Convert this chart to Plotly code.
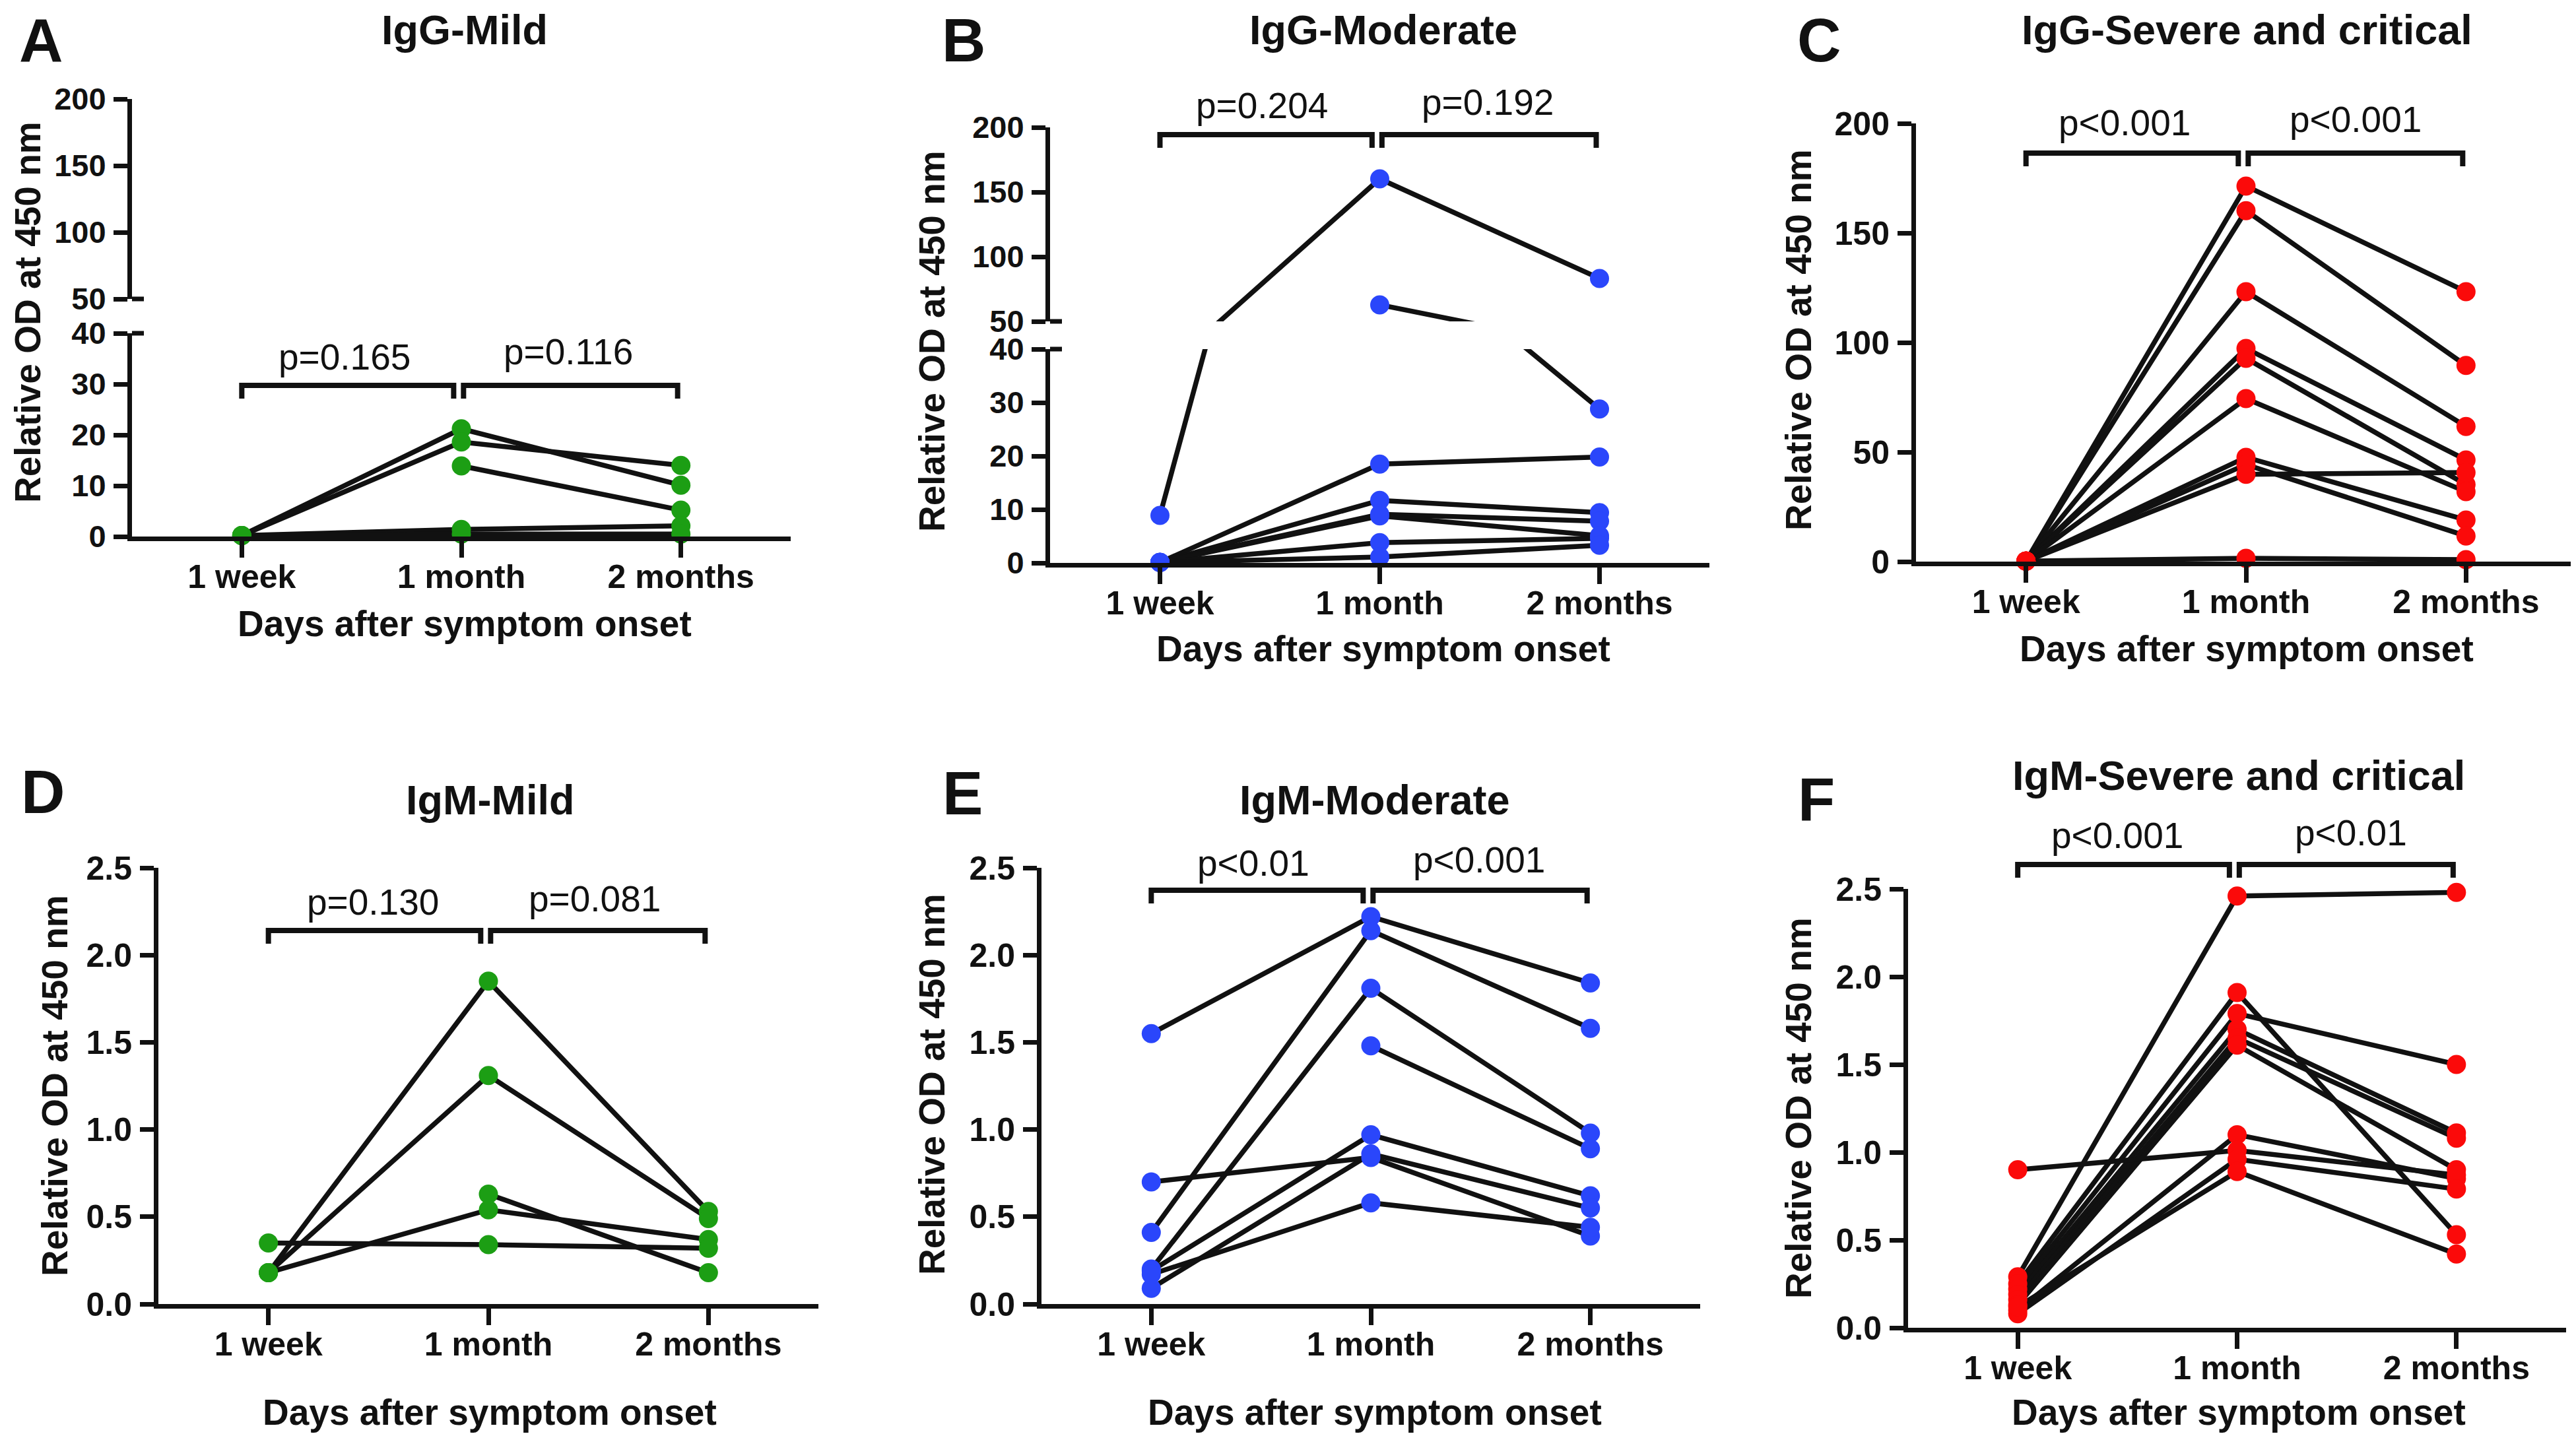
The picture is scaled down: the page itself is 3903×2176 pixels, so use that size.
import plotly.graph_objects as go

# categories on the x axis
timepoints = ["1 week", "1 month", "2 months"]

# A - IgG mild (one value per patient, None = not measured)
igg_mild_week = [0.2, 0.2, None, 0.2, 0.2]
igg_mild_month = [21.2, 18.6, 13.9, 1.4, 0.5]
igg_mild_2months = [10.1, 14.0, 5.2, 2.1, 0.5]

# B - IgG moderate
igg_mod_week = [8.9, None, 0.1, 0.1, 0.1, 0.1, 0.1, 0.1]
igg_mod_month = [160.2, 62.8, 18.5, 11.7, 9.1, 8.8, 3.8, 1.1]
igg_mod_2months = [83.2, 28.8, 19.8, 9.4, 7.8, 5.1, 4.6, 3.3]

# C - IgG severe and critical
igg_sev_week = [0.2, 0.2, 0.2, 0.2, 0.2, 0.2, 0.2, 0.2, 0.2, 0.2]
igg_sev_month = [171.4, 160.2, 123.2, 97.3, 92.8, 74.4, 47.6, 44.3, 39.8, 1.5]
igg_sev_2months = [123.2, 89.5, 61.7, 46.4, 35.2, 31.9, 19.0, 11.7, 40.7, 0.9]

# D - IgM mild
igm_mild_week = [0.18, 0.18, None, 0.18, 0.35]
igm_mild_month = [1.85, 1.31, 0.63, 0.54, 0.34]
igm_mild_2months = [0.53, 0.49, 0.18, 0.37, 0.32]

# E - IgM moderate
igm_mod_week = [1.55, 0.41, 0.20, None, 0.19, 0.09, 0.70, 0.17]
igm_mod_month = [2.22, 2.14, 1.81, 1.48, 0.97, 0.86, 0.84, 0.58]
igm_mod_2months = [1.84, 1.58, 0.98, 0.89, 0.62, 0.55, 0.39, 0.44]

# F - IgM severe and critical
igm_sev_week = [0.29, 0.25, 0.22, 0.19, 0.16, 0.13, 0.10, 0.90, 0.08, 0.12]
igm_sev_month = [2.46, 1.91, 1.79, 1.70, 1.65, 1.61, 1.10, 1.01, 0.96, 0.89]
igm_sev_2months = [2.48, 0.53, 1.50, 1.11, 1.08, 0.90, 0.85, 0.87, 0.79, 0.42]

# p values written over the brackets
p_values = {
    "A": ("p=0.165", "p=0.116"),
    "B": ("p=0.204", "p=0.192"),
    "C": ("p<0.001", "p<0.001"),
    "D": ("p=0.130", "p=0.081"),
    "E": ("p<0.01", "p<0.001"),
    "F": ("p<0.001", "p<0.01"),
}

W, H = 3903, 2176
PAGE_PAD = 8  # body margin of the html page
FONT = "Liberation Sans, Arial, Helvetica, sans-serif"
INK = "#111111"
GREEN, BLUE, RED = "#1c9e14", "#2a46fb", "#fb0a0a"


def px_x(p):
    return (p - PAGE_PAD) / W


def px_y(p):
    return 1 - (p - PAGE_PAD) / H


# layout of each panel, in page pixels
# segs: (low value, high value, pixel of low, pixel of high, tick values)
panels = [
    dict(letter="A", title="IgG-Mild", color=GREEN,
         data=(igg_mild_week, igg_mild_month, igg_mild_2months),
         x=(200, 1198),
         segs=[(0, 40, 813, 505, [0, 10, 20, 30, 40]),
               (50, 200, 453, 150, [50, 100, 150, 200])],
         fmt="", letter_xy=(62, 61), title_xy=(704, 45), ytitle_xy=(42, 473),
         xtitle_xy=(704, 945), p_xy=((522, 541), (861, 533)), bracket=(584, 604)),
    dict(letter="B", title="IgG-Moderate", color=BLUE,
         data=(igg_mod_week, igg_mod_month, igg_mod_2months),
         x=(1591, 2590),
         segs=[(0, 40, 853, 529, [0, 10, 20, 30, 40]),
               (50, 200, 487, 193, [50, 100, 150, 200])],
         fmt="", letter_xy=(1460, 61), title_xy=(2096, 45), ytitle_xy=(1412, 517),
         xtitle_xy=(2096, 983), p_xy=((1912, 160), (2254, 155)), bracket=(204, 224)),
    dict(letter="C", title="IgG-Severe and critical", color=RED,
         data=(igg_sev_week, igg_sev_month, igg_sev_2months),
         x=(2903, 3903),
         segs=[(0, 200, 851, 187, [0, 50, 100, 150, 200])],
         fmt="", letter_xy=(2756, 61), title_xy=(3404, 45), ytitle_xy=(2725, 515),
         xtitle_xy=(3404, 983), p_xy=((3219, 186), (3569, 181)), bracket=(232, 252)),
    dict(letter="D", title="IgM-Mild", color=GREEN,
         data=(igm_mild_week, igm_mild_month, igm_mild_2months),
         x=(240, 1240),
         segs=[(0, 2.5, 1976, 1315, [0, 0.5, 1, 1.5, 2, 2.5])],
         fmt=".1f", letter_xy=(65, 1200), title_xy=(742, 1212), ytitle_xy=(83, 1645),
         xtitle_xy=(742, 2140), p_xy=((565, 1367), (901, 1362)), bracket=(1410, 1430)),
    dict(letter="E", title="IgM-Moderate", color=BLUE,
         data=(igm_mod_week, igm_mod_month, igm_mod_2months),
         x=(1578, 2576),
         segs=[(0, 2.5, 1976, 1315, [0, 0.5, 1, 1.5, 2, 2.5])],
         fmt=".1f", letter_xy=(1458, 1202), title_xy=(2083, 1212), ytitle_xy=(1412, 1643),
         xtitle_xy=(2083, 2140), p_xy=((1899, 1308), (2241, 1303)), bracket=(1349, 1369)),
    dict(letter="F", title="IgM-Severe and critical", color=RED,
         data=(igm_sev_week, igm_sev_month, igm_sev_2months),
         x=(2891, 3888),
         segs=[(0, 2.5, 2012, 1347, [0, 0.5, 1, 1.5, 2, 2.5])],
         fmt=".1f", letter_xy=(2752, 1211), title_xy=(3392, 1175), ytitle_xy=(2725, 1679),
         xtitle_xy=(3392, 2140), p_xy=((3208, 1266), (3562, 1262)), bracket=(1310, 1330)),
]

bold = lambda s: dict(family=FONT, size=s, color=INK, weight="bold")

fig = go.Figure()
layout = {}
annotations = []
shapes = []
marker_traces = []
nx = ny = 0

for pnl in panels:
    nx += 1
    xid = "x" if nx == 1 else f"x{nx}"
    week, month, two = pnl["data"]
    seg_ids = []
    for lo, hi, p_lo, p_hi, ticks in pnl["segs"]:
        ny += 1
        yid = "y" if ny == 1 else f"y{ny}"
        seg_ids.append(yid)
        layout["yaxis" if ny == 1 else f"yaxis{ny}"] = dict(
            domain=[px_y(p_lo), min(1.0, px_y(p_hi))], range=[lo, hi], anchor=xid,
            tickvals=ticks, tickformat=pnl["fmt"], showline=True, linewidth=7,
            linecolor=INK, ticks="outside", ticklen=21, tickwidth=7, tickcolor=INK,
            tickfont=bold(50 if len(pnl["segs"]) == 1 else 47), showgrid=False,
            zeroline=False, ticklabelstandoff=2, automargin=False)
        # one line per patient, clipped to this segment
        for i in range(len(month)):
            fig.add_trace(go.Scatter(
                x=timepoints, y=[week[i], month[i], two[i]], mode="lines",
                line=dict(color=INK, width=7.5), xaxis=xid, yaxis=yid,
                hoverinfo="skip"))
        # dots that fall inside this segment
        xs, ys = [], []
        for tp, vals in zip(timepoints, (week, month, two)):
            for v in vals:
                if v is not None and lo <= v <= hi:
                    xs.append(tp)
                    ys.append(v)
        marker_traces.append(go.Scatter(
            x=xs, y=ys, mode="markers", cliponaxis=False,
            marker=dict(size=29, color=pnl["color"], line=dict(width=0)),
            xaxis=xid, yaxis=yid))

    layout["xaxis" if nx == 1 else f"xaxis{nx}"] = dict(
        domain=[px_x(pnl["x"][0]), min(1.0, px_x(pnl["x"][1]))], anchor=seg_ids[0],
        type="category", categoryorder="array", categoryarray=timepoints,
        range=[-0.5, 2.5], showline=True, linewidth=7, linecolor=INK,
        ticks="outside", ticklen=25, tickwidth=7, tickcolor=INK,
        tickfont=bold(50), showgrid=False, zeroline=False, automargin=False,
        ticklabelstandoff=-14)

    # axis break marks
    if len(pnl["segs"]) > 1:
        for py in (pnl["segs"][0][3], pnl["segs"][1][2]):
            shapes.append(dict(type="line", xref="paper", yref="paper",
                               x0=px_x(pnl["x"][0]), x1=px_x(pnl["x"][0] + 18),
                               y0=px_y(py), y1=px_y(py),
                               line=dict(color=INK, width=7)))

    # brackets with p values
    x0, x1 = pnl["x"]
    step = (x1 - x0) / 3
    cat_px = lambda c: x0 + (c + 0.5) * step
    yb, yt = pnl["bracket"]
    for a, b in ((0.0, 0.965), (1.01, 1.985)):
        xa, xb = px_x(cat_px(a)), px_x(cat_px(b))
        shapes.append(dict(
            type="path", xref="paper", yref="paper",
            path=f"M {xa},{px_y(yt)} L {xa},{px_y(yb)} L {xb},{px_y(yb)} L {xb},{px_y(yt)}",
            line=dict(color=INK, width=8)))
    for txt, (tx, ty) in zip(p_values[pnl["letter"]], pnl["p_xy"]):
        annotations.append(dict(text=txt, x=px_x(tx), y=px_y(ty), xref="paper", yref="paper",
                                showarrow=False, xanchor="center", yanchor="middle",
                                font=dict(family=FONT, size=55, color=INK)))

    # texts
    lx, ly = pnl["letter_xy"]
    annotations.append(dict(text=pnl["letter"], x=px_x(lx), y=px_y(ly), xref="paper",
                            yref="paper", showarrow=False, xanchor="center",
                            yanchor="middle", font=bold(92)))
    tx, ty = pnl["title_xy"]
    annotations.append(dict(text=pnl["title"], x=px_x(tx), y=px_y(ty), xref="paper",
                            yref="paper", showarrow=False, xanchor="center",
                            yanchor="middle", font=bold(63)))
    yx, yy = pnl["ytitle_xy"]
    annotations.append(dict(text="Relative OD at 450 nm", x=px_x(yx), y=px_y(yy),
                            xref="paper", yref="paper", showarrow=False, textangle=-90,
                            xanchor="center", yanchor="middle", font=bold(55)))
    xx, xy = pnl["xtitle_xy"]
    annotations.append(dict(text="Days after symptom onset", x=px_x(xx), y=px_y(xy),
                            xref="paper", yref="paper", showarrow=False,
                            xanchor="center", yanchor="middle", font=bold(55)))

for t in marker_traces:
    fig.add_trace(t)

fig.update_layout(
    **layout,
    width=W, height=H, margin=dict(l=0, r=0, t=0, b=0, pad=0, autoexpand=False),
    paper_bgcolor="white", plot_bgcolor="white", showlegend=False,
    annotations=annotations, shapes=shapes,
    font=dict(family=FONT, color=INK),
)

fig.write_html("out.html")
